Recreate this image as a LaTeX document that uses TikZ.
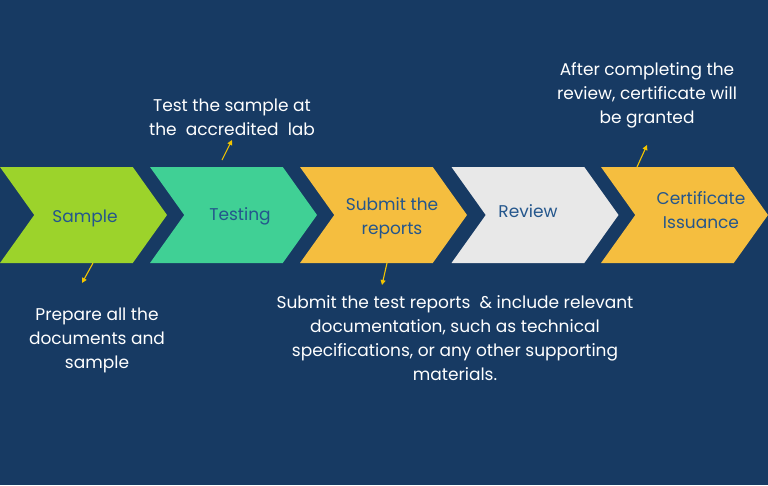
\documentclass[tikz,border=0pt]{standalone}
\usepackage{fontspec}
\setmainfont{Poppins}
\usepackage{tikz}
\usetikzlibrary{arrows.meta,shapes.symbols}
\definecolor{navybg}{RGB}{23,58,99}
\definecolor{limegreen}{RGB}{156,211,43}
\definecolor{mintgreen}{RGB}{64,208,149}
\definecolor{sunyellow}{RGB}{245,190,63}
\definecolor{paleGrey}{RGB}{232,232,232}
\definecolor{stageblue}{RGB}{36,86,140}
\definecolor{pointeryellow}{RGB}{242,196,0}

\begin{document}
\begin{tikzpicture}[
    x=1pt, y=-1pt,
    stage/.style={signal, signal from=west, signal to=east, signal pointer angle=109, draw=none, inner sep=0pt, outer sep=0pt, minimum width=167pt, minimum height=96pt},
    stagetext/.style={align=center, text=stageblue, font=\fontsize{17}{24}\selectfont},
    note/.style={align=center, text=white, font=\fontsize{17}{24}\selectfont},
    pointer/.style={-{Triangle[length=5pt,width=5pt]}, pointeryellow, line width=1.1pt}
]

% background
\fill[navybg] (0,0) rectangle (768,485);
\useasboundingbox (0,0) rectangle (768,485);

% process chevrons
\node[stage, fill=limegreen] (sample) at (83.5,215) {};
\node[stage, fill=mintgreen] (testing) at (233.5,215) {};
\node[stage, fill=sunyellow] (submit) at (383.5,215) {};
\node[stage, fill=paleGrey] (review) at (535,215) {};
\node[stage, fill=sunyellow] (certificate) at (684.5,215) {};

\node[stagetext] (sampletxt) at (85,218) {Sample};
\node[stagetext] (testingtxt) at (240,216) {Testing};
\node[stagetext] (submittxt) at (392,218) {Submit the\\reports};
\node[stagetext] (reviewtxt) at (528,211) {Review};
\node[stagetext] (certificatetxt) at (701,210) {Certificate\\Issuance};

% notes
\node[note] (testnote) at (232,117) {Test the sample at\\the\ \ accredited\ \ lab};
\node[note] (grantnote) at (647,95) {After completing the\\review, certificate will\\be granted};
\node[note] (preparenote) at (97,340) {Prepare all the\\documents and\\sample};
\node[note] (submitnote) at (455,338) {Submit the test reports\ \ \& include relevant\\documentation, such as technical\\specifications, or any other supporting\\materials.};

% pointers
\coordinate (testtip) at (232,140);
\coordinate (granttip) at (647,145);
\coordinate (preparetip) at (82,283);
\coordinate (submittip) at (382,285);

\draw[pointer] ([xshift=-11.5pt,yshift=7pt]testing.north) -- (testtip);
\draw[pointer] ([xshift=-47.5pt]certificate.north) -- (granttip);
\draw[pointer] ([xshift=9.5pt]sample.south) -- (preparetip);
\draw[pointer] ([xshift=3.5pt]submit.south) -- (submittip);

\end{tikzpicture}
\end{document}
